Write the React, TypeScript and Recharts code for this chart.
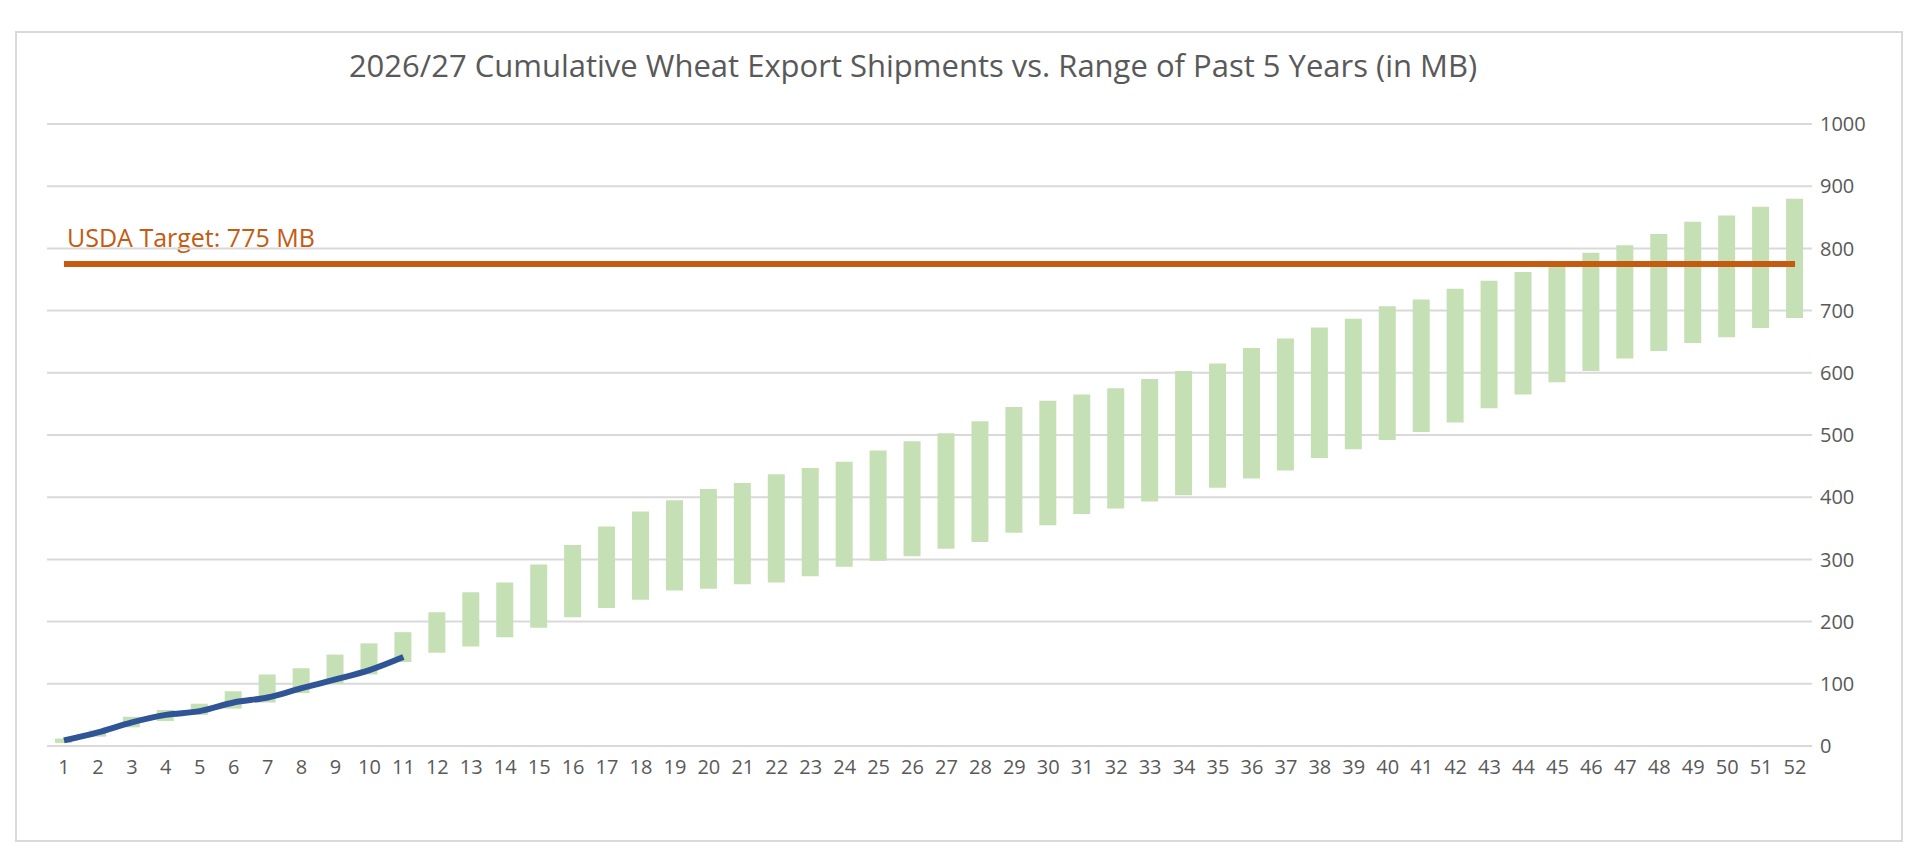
import React from "react";
import { ComposedChart, Bar, Line, XAxis, YAxis, CartesianGrid } from "recharts";

const weeks = Array.from({ length: 52 }, (_, i) => String(i + 1));
const rangeLow = [5,15,30,40,50,60,70,85,100,115,135,150,160,175,190,207,222,235,250,253,260,263,273,288,298,305,317,328,343,355,373,382,393,403,415,430,443,463,477,492,505,520,543,565,585,603,623,635,648,657,672,688];
const rangeHigh = [12,25,47,58,68,88,115,125,147,165,183,215,247,263,292,323,353,377,395,413,423,437,447,457,475,490,503,522,545,555,565,575,590,603,615,640,655,673,687,707,718,735,748,762,773,793,805,823,843,853,867,880];
const current = [9,22,38,50,56,70,78,93,107,122,143];
const target = 775;
const yTicks = [0,100,200,300,400,500,600,700,800,900,1000];

const data = weeks.map((w, i) => ({
  week: w,
  base: rangeLow[i],
  span: rangeHigh[i] - rangeLow[i],
  current: i < current.length ? current[i] : null,
  target,
}));

const font = "'Open Sans', 'Liberation Sans', sans-serif";

export default function App() {
  return (
    <div style={{ position: "relative", width: 1904, height: 852, fontFamily: font }}>
      <div style={{ position: "absolute", left: 7, top: 23, width: 1888, height: 811, border: "2px solid #d9d9d9", boxSizing: "border-box" }} />
      <div style={{ position: "absolute", left: 0, top: 36, width: 1810, textAlign: "center", fontSize: 31, color: "#595959" }}>
        2026/27 Cumulative Wheat Export Shipments vs. Range of Past 5 Years (in MB)
      </div>
      <div style={{ position: "absolute", left: 59, top: 212, fontSize: 25, color: "#C55A11" }}>USDA Target: 775 MB</div>
      <div style={{ position: "absolute", left: 0, top: 0 }}>
        <ComposedChart width={1904} height={852} data={data} margin={{ top: 116, right: 36, bottom: 78, left: 39 }}>
          <CartesianGrid vertical={false} stroke="#d9d9d9" strokeWidth={2} />
          <XAxis dataKey="week" axisLine={false} tickLine={false} interval={0} tick={{ fill: "#595959", fontSize: 20 }} height={36} tickMargin={8} />
          <YAxis orientation="right" domain={[0, 1000]} ticks={yTicks} axisLine={false} tickLine={false} width={64} tick={{ fill: "#595959", fontSize: 20 }} />
          <Bar dataKey="base" stackId="r" fill="transparent" barSize={17} isAnimationActive={false} />
          <Bar dataKey="span" stackId="r" fill="#C5E0B4" barSize={17} isAnimationActive={false} />
          <Line dataKey="target" stroke="#C55A11" strokeWidth={6} dot={false} isAnimationActive={false} />
          <Line dataKey="current" stroke="#2F5597" strokeWidth={6} dot={false} type="monotone" isAnimationActive={false} connectNulls={false} />
        </ComposedChart>
      </div>
    </div>
  );
}
